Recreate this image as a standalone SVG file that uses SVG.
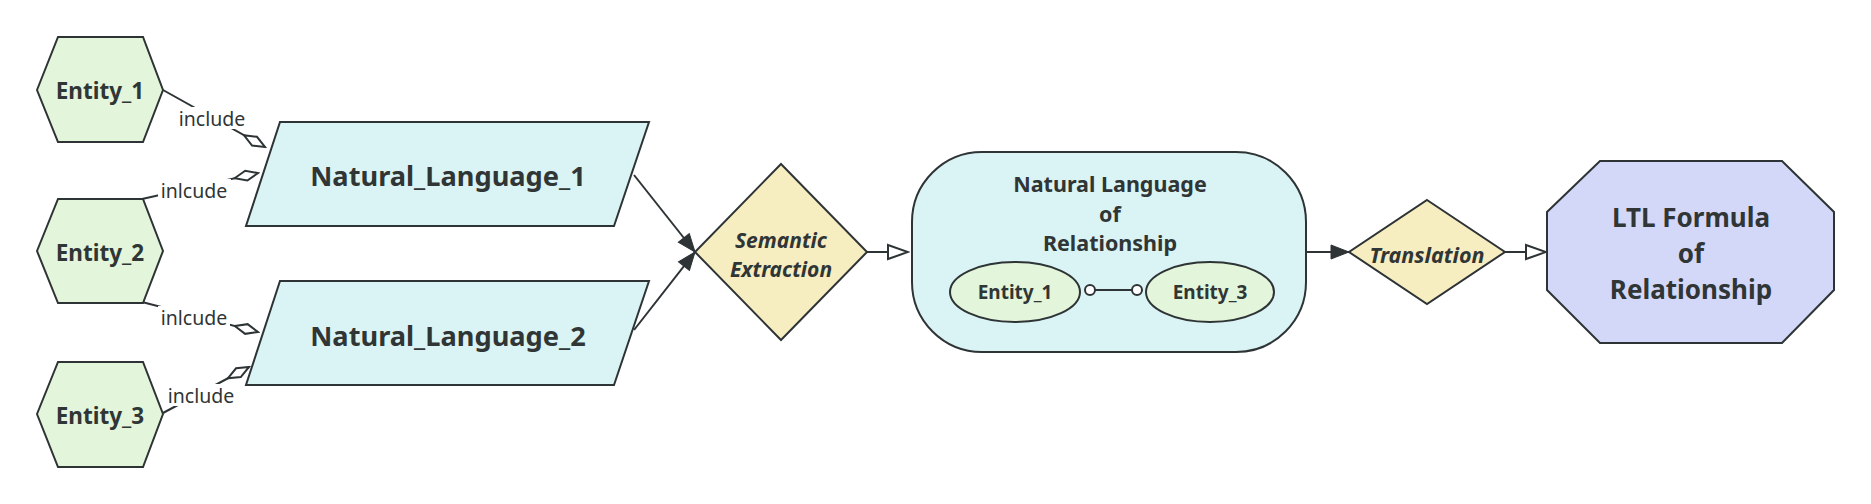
<svg xmlns="http://www.w3.org/2000/svg" width="1871" height="504" viewBox="0 0 1871 504">
<style>
.shape{stroke:#2e3436;stroke-width:2;}
.ent{fill:#e3f5da;}
.nl{fill:#daf3f4;}
.dec{fill:#f6edc1;}
.ltl{fill:#d3d8f8;}
.t{font-family:"Noto Sans","Open Sans",sans-serif;font-weight:bold;fill:#303535;text-anchor:middle;dominant-baseline:central;}
.ti{font-style:italic;}
.lbl{font-family:"Noto Sans","Open Sans",sans-serif;font-size:19.5px;fill:#303535;text-anchor:middle;dominant-baseline:central;}
.edge{stroke:#2e3436;stroke-width:2;fill:none;}
</style>
<defs>
<marker id="dia" markerUnits="userSpaceOnUse" markerWidth="28" markerHeight="14" viewBox="-2 -7 28 14" refX="24" refY="0" orient="auto">
<path d="M0,0 L12,-5 L24,0 L12,5 Z" fill="#ffffff" stroke="#2e3436" stroke-width="2"/>
</marker>
<marker id="fill" markerUnits="userSpaceOnUse" markerWidth="22" markerHeight="18" viewBox="-2 -9 22 18" refX="18" refY="0" orient="auto">
<path d="M0,-7 L18,0 L0,7 Z" fill="#2e3436" stroke="#2e3436" stroke-width="1"/>
</marker>
<marker id="hollow" markerUnits="userSpaceOnUse" markerWidth="24" markerHeight="18" viewBox="-2 -9 24 18" refX="20" refY="0" orient="auto">
<path d="M0,-7 L20,0 L0,7 Z" fill="#ffffff" stroke="#2e3436" stroke-width="2"/>
</marker>
</defs>

<g id="connectors">
<line class="edge" x1="163" y1="90" x2="265" y2="147" marker-end="url(#dia)"/>
<line class="edge" x1="142" y1="199" x2="258" y2="173" marker-end="url(#dia)"/>
<line class="edge" x1="142" y1="302" x2="258" y2="332" marker-end="url(#dia)"/>
<line class="edge" x1="163" y1="413" x2="249" y2="367" marker-end="url(#dia)"/>
<rect x="176" y="107" width="72" height="22" fill="#ffffff"/>
<text class="lbl" x="212" y="118">include</text>
<rect x="158" y="179" width="73" height="22" fill="#ffffff"/>
<text class="lbl" x="194" y="190">inlcude</text>
<rect x="158" y="306" width="72" height="22" fill="#ffffff"/>
<text class="lbl" x="194" y="317">inlcude</text>
<rect x="165" y="384" width="73" height="22" fill="#ffffff"/>
<text class="lbl" x="201" y="395">include</text>
<line class="edge" x1="634" y1="175" x2="695" y2="252" marker-end="url(#fill)"/>
<line class="edge" x1="634" y1="330" x2="695" y2="252" marker-end="url(#fill)"/>
<line class="edge" x1="867" y1="252" x2="908" y2="252" marker-end="url(#hollow)"/>
<line class="edge" x1="1306" y1="252" x2="1349" y2="252" marker-end="url(#fill)"/>
<line class="edge" x1="1505" y1="252" x2="1546" y2="252" marker-end="url(#hollow)"/>
</g>

<g id="entity1">
<polygon class="shape ent" points="37,90 58,37 143,37 163,90 143,142 58,142"/>
<text class="t" x="100" y="90" font-size="22.5">Entity_1</text>
</g>
<g id="entity2">
<polygon class="shape ent" points="37,251 58,199 143,199 163,251 143,303 58,303"/>
<text class="t" x="100" y="252" font-size="22.5">Entity_2</text>
</g>
<g id="entity3">
<polygon class="shape ent" points="37,414 58,362 143,362 163,414 143,467 58,467"/>
<text class="t" x="100" y="415" font-size="22.5">Entity_3</text>
</g>

<g id="nl1">
<polygon class="shape nl" points="280,122 649,122 614,226 246,226"/>
<text class="t" x="448" y="175" font-size="27.2">Natural_Language_1</text>
</g>
<g id="nl2">
<polygon class="shape nl" points="280,281 649,281 614,385 246,385"/>
<text class="t" x="448" y="335" font-size="27.2">Natural_Language_2</text>
</g>

<g id="semantic">
<polygon class="shape dec" points="781,164 867,252 781,340 695,252"/>
<text class="t ti" x="781" y="239.5" font-size="21">Semantic</text>
<text class="t ti" x="781" y="268.5" font-size="21">Extraction</text>
</g>

<g id="relationship">
<rect class="shape nl" x="912" y="152" width="394" height="200" rx="70" ry="70"/>
<text class="t" x="1110" y="183.5" font-size="21.5">Natural Language</text>
<text class="t" x="1110" y="213" font-size="21.5">of</text>
<text class="t" x="1110" y="242.5" font-size="21.5">Relationship</text>
<g id="inner-entity1">
<ellipse class="shape ent" cx="1015" cy="292" rx="65" ry="30"/>
<text class="t" x="1015" y="292" font-size="19">Entity_1</text>
</g>
<g id="inner-entity3">
<ellipse class="shape ent" cx="1210" cy="292" rx="64" ry="30"/>
<text class="t" x="1210" y="292" font-size="19">Entity_3</text>
</g>
<g id="inner-link">
<line class="edge" x1="1095" y1="290" x2="1132" y2="290"/>
<circle cx="1090" cy="290" r="5" fill="#ffffff" stroke="#2e3436" stroke-width="2"/>
<circle cx="1137" cy="290" r="5" fill="#ffffff" stroke="#2e3436" stroke-width="2"/>
</g>
</g>

<g id="translation">
<polygon class="shape dec" points="1427,200 1505,252 1427,304 1349,252"/>
<text class="t ti" x="1427" y="254" font-size="21.5">Translation</text>
</g>

<g id="ltl">
<polygon class="shape ltl" points="1600,161 1782,161 1834,212 1834,290 1782,343 1600,343 1547,290 1547,212"/>
<text class="t" x="1691" y="217" font-size="26">LTL Formula</text>
<text class="t" x="1691" y="253" font-size="26">of</text>
<text class="t" x="1691" y="289" font-size="26">Relationship</text>
</g>
</svg>
